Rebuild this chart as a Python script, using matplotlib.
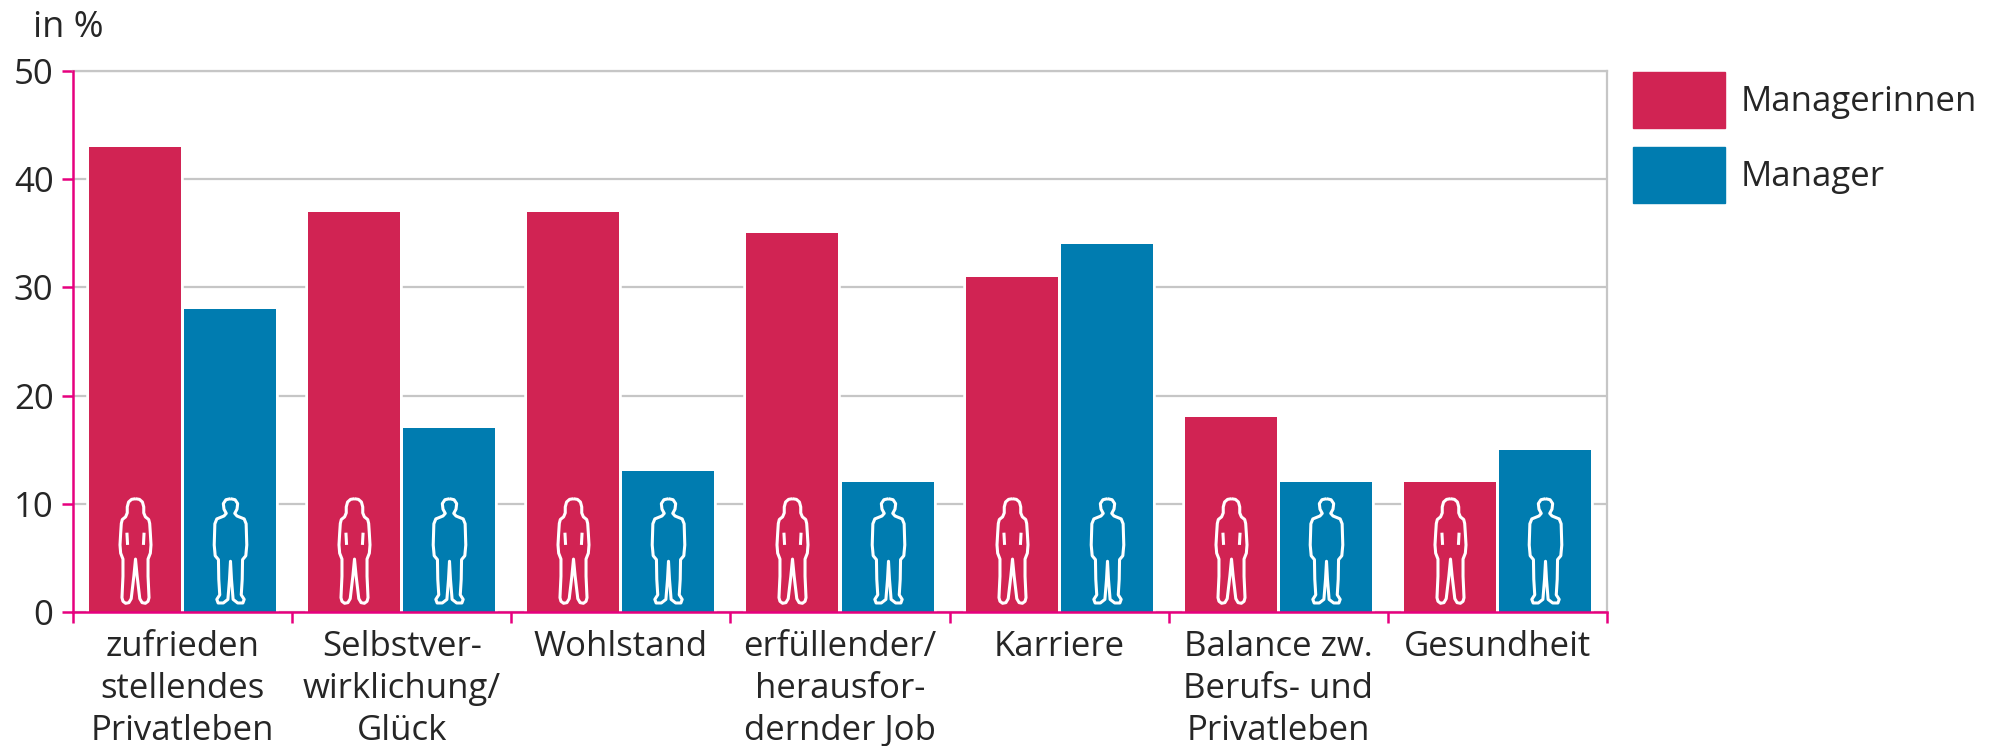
import numpy as np
import matplotlib
matplotlib.use("Agg")
import matplotlib.pyplot as plt
import matplotlib.patheffects as pe
from matplotlib.patches import Patch
from matplotlib.path import Path

categories = ["zufrieden\nstellendes\nPrivatleben", "Selbstver-\nwirklichung/\nGlück", "Wohlstand",
              "erfüllender/\nherausfor-\ndernder Job", "Karriere", "Balance zw.\nBerufs- und\nPrivatleben", "Gesundheit"]
managerinnen = [43, 37, 37, 35, 31, 18, 12]
manager = [28, 17, 13, 12, 34, 12, 15]
y_ticks = [0, 10, 20, 30, 40, 50]

RED = "#d12353"
BLUE = "#007cb0"
PINK = "#e6007e"
GRID = "#c6c6c6"
TEXT = "#262626"
FONT = "Open Sans"
FS = 25
W, H = 1998, 746
FS_PX = FS * 100 / 72


def figure_marker(half, extras=()):
    # outline of a person, given as the right half, mirrored to the left
    half = np.array(half, dtype=float)
    left = half[::-1].copy()
    left[:, 0] *= -1
    pts = np.vstack([half, left[1:]])
    verts = [tuple(p) for p in pts]
    codes = [Path.MOVETO] + [Path.LINETO] * (len(pts) - 1)
    for a, b in extras:
        verts += [a, b]
        codes += [Path.MOVETO, Path.LINETO]
    verts = np.array(verts)
    verts[:, 1] = 245 - verts[:, 1]  # flip, centred on the middle of the figure
    return Path(verts, codes)


woman_half = [(0, 85), (12, 87), (21, 95), (25, 110), (25, 128), (30, 140), (40, 148), (43, 160), (45, 190),
              (47, 225), (45, 250), (38, 268), (38, 320), (41, 385), (38, 396), (30, 402), (20, 400), (13, 388),
              (5, 320), (0, 268)]
woman_extras = [((26, 188), (24, 225)), ((-26, 188), (-24, 225))]
man_half = [(0, 83), (14, 86), (22, 98), (20, 115), (13, 128), (20, 136), (42, 145), (48, 160), (50, 225),
            (47, 258), (37, 270), (36, 330), (33, 378), (42, 392), (38, 403), (22, 403), (8, 392), (3, 330), (0, 275)]
woman = figure_marker(woman_half, woman_extras)
man = figure_marker(man_half)

plt.rcParams["font.family"] = [FONT, "DejaVu Sans"]
fig = plt.figure(figsize=(W / 100, H / 100), dpi=100)
ax = fig.add_axes([73 / W, 1 - 612 / H, (1607 - 73) / W, (612 - 71) / H])

x = np.arange(len(categories)) + 0.5
halo = [pe.withStroke(linewidth=4, foreground="white")]
bars_w = ax.bar(x - 0.217, managerinnen, 0.42, color=RED, zorder=3)
bars_m = ax.bar(x + 0.217, manager, 0.42, color=BLUE, zorder=3)
for b in list(bars_w) + list(bars_m):
    b.set_path_effects(halo + [pe.Normal()])

# people symbols on each bar
ax.plot(x - 0.217, [5.65] * len(x), ls="none", marker=woman, ms=76, mfc="none", mec="white", mew=2.2, zorder=4, clip_on=False)
ax.plot(x + 0.217, [5.65] * len(x), ls="none", marker=man, ms=76, mfc="none", mec="white", mew=2.2, zorder=4, clip_on=False)

ax.set_xlim(0, len(categories))
ax.set_ylim(0, 50)
ax.set_yticks(y_ticks)
ax.set_xticks(np.arange(len(categories) + 1))
ax.set_xticklabels([])
ax.set_xticks(x, categories, minor=True)
ax.tick_params(axis="x", which="minor", length=0, pad=13, labelsize=FS, labelcolor=TEXT)
ax.tick_params(axis="x", which="major", length=8, width=1.8, color=PINK)
ax.tick_params(axis="y", length=8, width=1.8, color=PINK, pad=6, labelsize=FS, labelcolor=TEXT)
for lab in ax.get_xticklabels(minor=True):
    lab.set_linespacing(1.3)
    lab.set_verticalalignment("top")

ax.grid(axis="y", color=GRID, lw=1.6, zorder=1)
ax.set_axisbelow(True)
for side in ["left", "bottom"]:
    ax.spines[side].set_color(PINK)
    ax.spines[side].set_linewidth(1.8)
    ax.spines[side].set_zorder(5)
for side in ["top", "right"]:
    ax.spines[side].set_color(GRID)
    ax.spines[side].set_linewidth(1.6)

fig.text(33 / W, 1 - 37 / H, "in %", fontsize=FS + 1, color=TEXT, ha="left", va="baseline")

# legend handle height: matplotlib takes a descent share off handleheight
ax.legend(handles=[Patch(color=RED, label="Managerinnen"), Patch(color=BLUE, label="Manager")],
          loc="upper left", bbox_to_anchor=(1633 / W, 1 - 72 / H), bbox_transform=fig.transFigure,
          frameon=False, fontsize=FS, labelcolor=TEXT, borderpad=0, borderaxespad=0,
          handlelength=92 / FS_PX, handleheight=(56 / FS_PX - 0.245) / 0.65,
          handletextpad=16 / FS_PX, labelspacing=19 / FS_PX)

fig.savefig("out.png", dpi=100)
